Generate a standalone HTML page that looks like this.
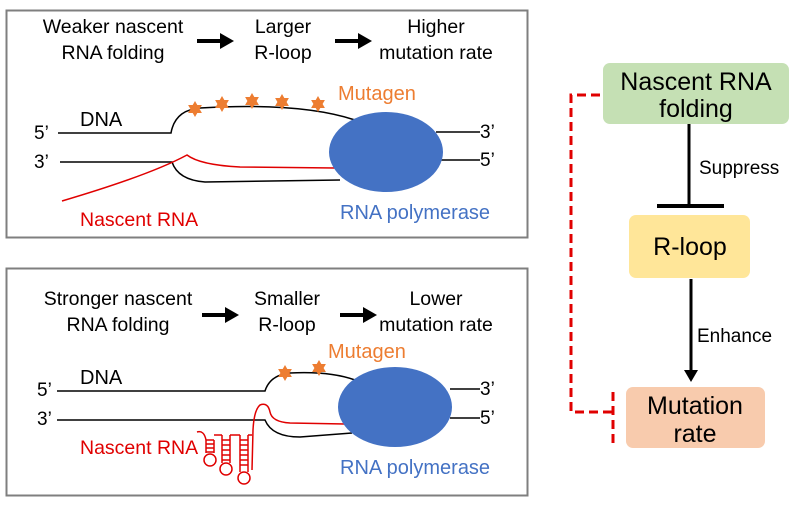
<!DOCTYPE html>
<html><head><style>
body{margin:0;background:#fff;}
svg text{font-family:"Liberation Sans",sans-serif;}
</style></head><body>
<svg width="800" height="516" viewBox="0 0 800 516" xmlns="http://www.w3.org/2000/svg">
<defs>
<g id="star"><polygon points="0,-8 2.3,-4 6.9,-4 4.6,0 6.9,4 2.3,4 0,8 -2.3,4 -6.9,4 -4.6,0 -6.9,-4 -2.3,-4" fill="#ed7d31"/></g>
</defs>
<!-- Box 1 -->
<rect x="6.5" y="10.5" width="521" height="227" fill="#fff" stroke="#7f7f7f" stroke-width="2"/>
<g font-size="19.5" text-anchor="middle" fill="#000">
<text x="113" y="33">Weaker nascent</text><text x="113" y="59">RNA folding</text>
<text x="283" y="33">Larger</text><text x="283" y="59">R-loop</text>
<text x="436" y="33">Higher</text><text x="436" y="59">mutation rate</text>
</g>
<line x1="197" y1="41" x2="222" y2="41" stroke="#000" stroke-width="4"/><polygon points="220,33 234,41 220,49" fill="#000"/>
<line x1="335" y1="41" x2="360" y2="41" stroke="#000" stroke-width="4"/><polygon points="358,33 372,41 358,49" fill="#000"/>
<g stroke="#000" stroke-width="1.5" fill="none">
<path d="M58,133 H171 Q175,110 200,108 Q300,102 355,120"/>
<path d="M60,162 H172 Q178,180 205,182 L340,180"/>
<path d="M436,132 H480 M436,160 H480"/>
</g>
<path d="M62,201 Q150,175 187,155 Q200,165 240,167 L335,168" stroke="#e00000" stroke-width="1.5" fill="none"/>
<ellipse cx="386" cy="152" rx="57" ry="40" fill="#4472c4"/>
<use href="#star" x="195" y="109"/><use href="#star" x="222" y="104"/><use href="#star" x="252" y="101"/><use href="#star" x="282" y="102"/><use href="#star" x="318" y="104"/>
<text x="338" y="100" font-size="20" fill="#ed7d31">Mutagen</text>
<text x="80" y="126" font-size="20">DNA</text>
<text x="34" y="139" font-size="19">5’</text><text x="34" y="168" font-size="19">3’</text>
<text x="480" y="138" font-size="19">3’</text><text x="480" y="166" font-size="19">5’</text>
<text x="80" y="226" font-size="19.5" fill="#e00000">Nascent RNA</text>
<text x="340" y="219" font-size="20" fill="#4472c4">RNA polymerase</text>
<!-- Box 2 -->
<rect x="6.5" y="268.5" width="521" height="227" fill="#fff" stroke="#7f7f7f" stroke-width="2"/>
<g font-size="19.5" text-anchor="middle" fill="#000">
<text x="118" y="305">Stronger nascent</text><text x="118" y="331">RNA folding</text>
<text x="287" y="305">Smaller</text><text x="287" y="331">R-loop</text>
<text x="436" y="305">Lower</text><text x="436" y="331">mutation rate</text>
</g>
<line x1="202" y1="315" x2="227" y2="315" stroke="#000" stroke-width="4"/><polygon points="225,307 239,315 225,323" fill="#000"/>
<line x1="340" y1="315" x2="365" y2="315" stroke="#000" stroke-width="4"/><polygon points="363,307 377,315 363,323" fill="#000"/>
<g stroke="#000" stroke-width="1.5" fill="none">
<path d="M57,391 H265 Q270,375 290,373 Q330,371 355,380"/>
<path d="M57,420 H265 Q272,437 300,437 L352,433"/>
<path d="M450,389 H480 M450,418 H480"/>
</g>
<g stroke="#e00000" stroke-width="1.5" fill="none">
<path d="M345,424 L290,423 Q272,422 270,412 Q268,402 260,405 Q254,410 253,430 L252,470"/>
<path d="M197,432 Q204,430 206,440 L206,453 M214,440 L214,453 M206,440 H214 M206,444 H214 M206,448 H214 M206,452 H214"/>
<circle cx="210" cy="460" r="6"/>
<path d="M214,435 H222 M222,435 L222,463 M230,435 L230,463 M222,440 H230 M222,445 H230 M222,450 H230 M222,455 H230 M222,460 H230"/>
<circle cx="226" cy="469" r="6"/>
<path d="M230,435 H240 M240,435 L240,472 M248,435 L248,472 M248,435 L252,435 M240,440 H248 M240,445 H248 M240,450 H248 M240,455 H248 M240,460 H248 M240,465 H248"/>
<circle cx="244" cy="478" r="6"/>
</g>
<ellipse cx="395" cy="407" rx="57" ry="40" fill="#4472c4"/>
<use href="#star" x="285" y="373"/><use href="#star" x="319" y="368"/>
<text x="328" y="358" font-size="20" fill="#ed7d31">Mutagen</text>
<text x="80" y="384" font-size="20">DNA</text>
<text x="37" y="396" font-size="19">5’</text><text x="37" y="425" font-size="19">3’</text>
<text x="480" y="395" font-size="19">3’</text><text x="480" y="424" font-size="19">5’</text>
<text x="80" y="454" font-size="19.5" fill="#e00000">Nascent RNA</text>
<text x="340" y="474" font-size="20" fill="#4472c4">RNA polymerase</text>
<!-- Right diagram -->
<rect x="603" y="63" width="186" height="61" rx="7" fill="#c5e0b4"/>
<text x="696" y="90" font-size="25" text-anchor="middle">Nascent RNA</text>
<text x="696" y="117" font-size="25" text-anchor="middle">folding</text>
<line x1="689" y1="124" x2="689" y2="205" stroke="#000" stroke-width="3"/>
<line x1="657" y1="206" x2="724" y2="206" stroke="#000" stroke-width="4"/>
<text x="699" y="174" font-size="19">Suppress</text>
<rect x="629" y="215" width="121" height="63" rx="7" fill="#ffe699"/>
<text x="690" y="255" font-size="25" text-anchor="middle">R-loop</text>
<line x1="691" y1="279" x2="691" y2="372" stroke="#000" stroke-width="3"/>
<polygon points="684,370 698,370 691,382" fill="#000"/>
<text x="697" y="342" font-size="19">Enhance</text>
<rect x="626" y="387" width="139" height="61" rx="7" fill="#f8cbad"/>
<text x="695" y="414" font-size="25" text-anchor="middle">Mutation</text>
<text x="695" y="442" font-size="25" text-anchor="middle">rate</text>
<path d="M600,95 H571 V412 H612" stroke="#e00000" stroke-width="3" fill="none" stroke-dasharray="9,5"/>
<line x1="613" y1="392" x2="613" y2="446" stroke="#e00000" stroke-width="3" stroke-dasharray="9,5"/>
</svg>
</body></html>
